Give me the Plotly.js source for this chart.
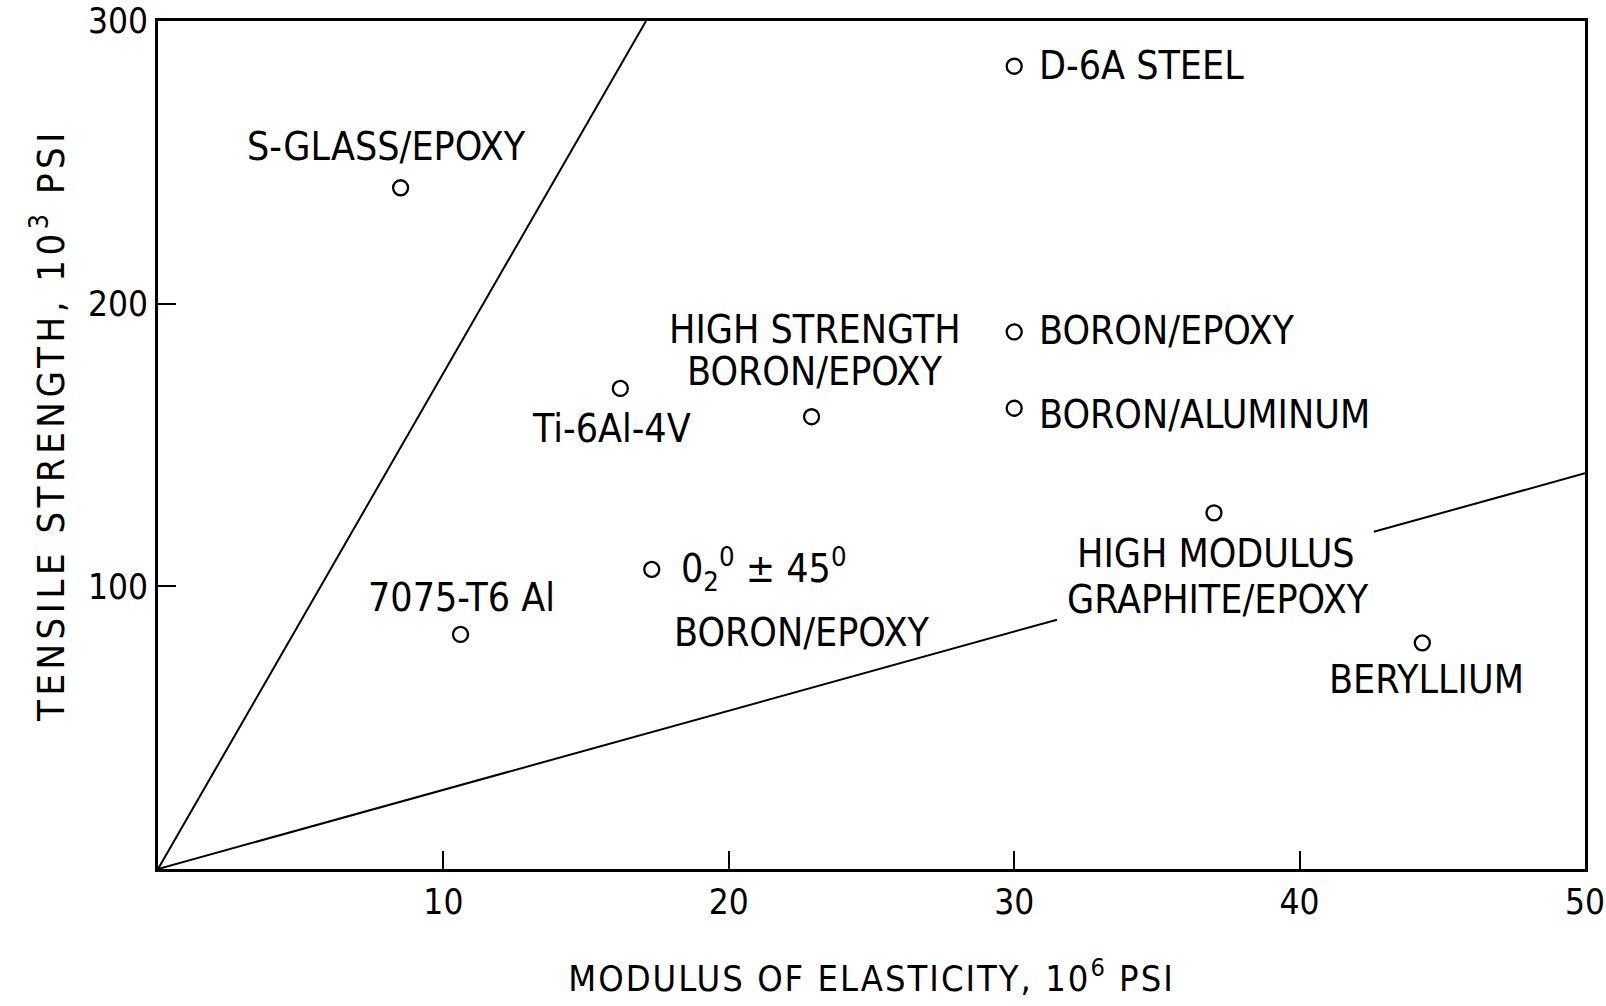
<!DOCTYPE html>
<html>
<head>
<meta charset="utf-8">
<script src="https://cdn.plot.ly/plotly-3.0.1.min.js"></script>
<style>
  html, body { margin: 0; padding: 0; background: #fff; }
  #chart { width: 1606px; height: 1006px; }
  .xtitle { letter-spacing: 2px; }
  .ytitle { letter-spacing: 4.5px; }
</style>
</head>
<body>
<div id="chart"></div>
<script>
// ---- data ----
// one entry per material: label lines, modulus (10^6 psi), tensile strength (10^3 psi)
const labelLines = [
  ['S-GLASS/EPOXY'],
  ['D-6A STEEL'],
  ['BORON/EPOXY'],
  ['BORON/ALUMINUM'],
  ['Ti-6Al-4V'],
  ['HIGH STRENGTH', 'BORON/EPOXY'],
  ['0<sub>2</sub><sup>0</sup> ± 45<sup>0</sup>', 'BORON/EPOXY'],
  ['7075-T6 Al'],
  ['HIGH MODULUS', 'GRAPHITE/EPOXY'],
  ['BERYLLIUM']
];
const modulus  = [8.5, 30.0, 30.0, 30.0, 16.2, 22.9, 17.3, 10.6, 37.0, 44.3];
const strength = [241, 284, 190, 163, 170, 160, 106, 83, 126, 80];
// boundary lines through the origin (the low one is broken where the label sits)
const lineHighX = [0, 17.1];
const lineHighY = [0, 300];
const lineLowX  = [0, 31.5, null, 42.6, 50];
const lineLowY  = [0, 88.2, null, 119.3, 140];
// axis ticks
const xTicks = [10, 20, 30, 40, 50];
const yTicks = [100, 200, 300];

// ---- label placement (style only): [xanchor, dx px, dy px (down +)] per line ----
const labelPlace = [
  [['center', -14, -41]],
  [['left', 23, -1]],
  [['left', 23, -1]],
  [['left', 23, 6]],
  [['center', -9, 40]],
  [['center', 3, -87], ['center', 3, -45]],
  [['left', 27, 0], ['left', 20, 63]],
  [['center', 1, -37]],
  [['center', 2, 41], ['center', 4, 87]],
  [['center', 4, 37]]
];

const FONT = "'DejaVu Sans Condensed', 'Liberation Sans Narrow', sans-serif";

const annotations = [];
labelLines.forEach((lines, i) => {
  lines.forEach((txt, j) => {
    const p = labelPlace[i][j];
    annotations.push({
      x: modulus[i], y: strength[i], xref: 'x', yref: 'y',
      text: txt, showarrow: false,
      xanchor: p[0], yanchor: 'middle',
      xshift: p[1], yshift: -p[2],
      font: { family: FONT, size: 39, color: '#000' }
    });
  });
});

const traces = [
  { x: lineHighX, y: lineHighY, mode: 'lines', line: { color: '#000', width: 2 }, hoverinfo: 'skip' },
  { x: lineLowX, y: lineLowY, mode: 'lines', line: { color: '#000', width: 2 }, connectgaps: false, hoverinfo: 'skip' },
  { x: modulus, y: strength, mode: 'markers', hoverinfo: 'skip',
    marker: { symbol: 'circle-open', size: 15, color: '#000', line: { width: 2.3, color: '#000' } } }
];

const layout = {
  width: 1606, height: 1006,
  margin: { l: 158, r: 21, t: 21, b: 137 },
  paper_bgcolor: '#fff', plot_bgcolor: '#fff',
  showlegend: false,
  font: { family: FONT, color: '#000', size: 38 },
  xaxis: {
    range: [0, 50], tickvals: xTicks, ticktext: xTicks.map(String),
    ticks: 'inside', ticklen: 18, tickwidth: 2, tickcolor: '#000',
    ticklabeloverflow: 'allow',
    showgrid: false, zeroline: false,
    showline: true, linewidth: 3, linecolor: '#000', mirror: true,
    tickfont: { family: FONT, size: 35 },
    title: { text: 'MODULUS OF ELASTICITY, 10<sup>6</sup> PSI', font: { family: FONT, size: 36 }, standoff: 45 }
  },
  yaxis: {
    range: [0, 300], tickvals: yTicks, ticktext: yTicks.map(String),
    ticks: 'inside', ticklen: 18, tickwidth: 2, tickcolor: '#000',
    ticklabeloverflow: 'allow',
    showgrid: false, zeroline: false,
    showline: true, linewidth: 3, linecolor: '#000', mirror: true,
    tickfont: { family: FONT, size: 35 },
    title: { text: '\u2800\u2009TENSILE STRENGTH, 10<sup>3</sup> PSI', font: { family: FONT, size: 38 }, standoff: 12 }
  },
  annotations: annotations
};

Plotly.newPlot('chart', traces, layout, { staticPlot: true, displayModeBar: false });
</script>
</body>
</html>
